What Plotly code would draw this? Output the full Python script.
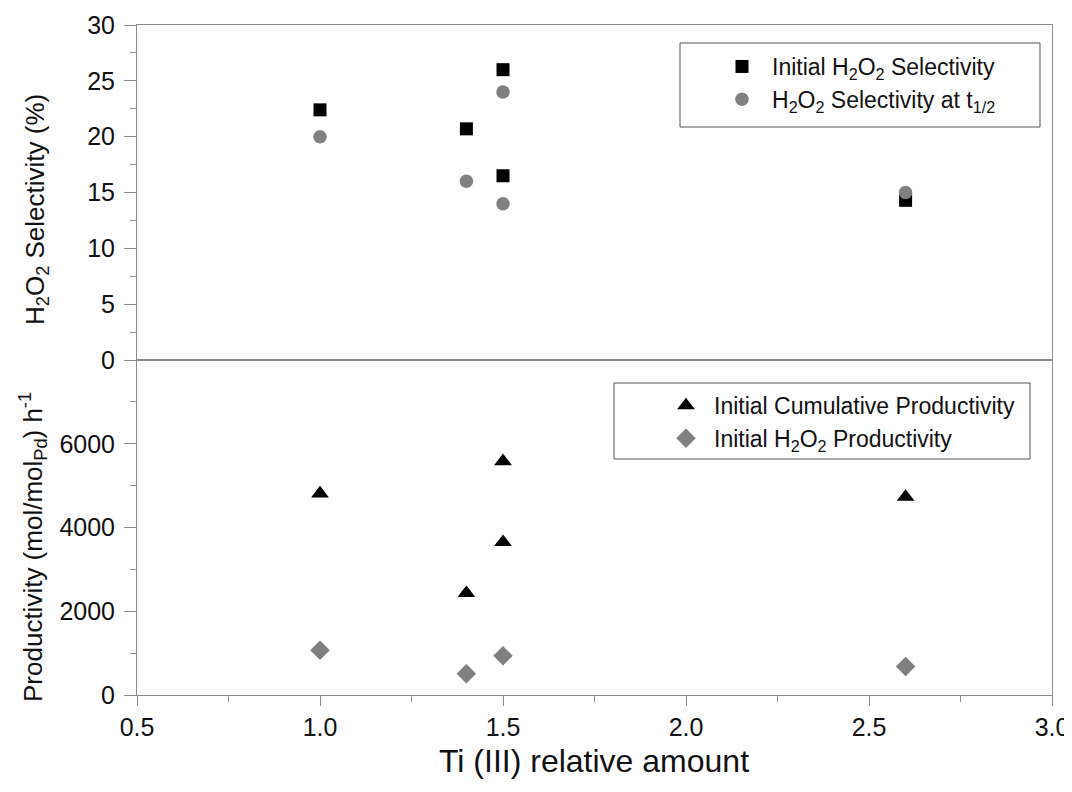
import plotly.graph_objects as go
from plotly.subplots import make_subplots

# ---- data ----
x_sel = [1.0, 1.4, 1.5, 1.5, 2.6]
initial_selectivity = [22.4, 20.7, 26.0, 16.5, 14.3]
selectivity_half = [20.0, 16.0, 24.0, 14.0, 15.0]

x_cum = [1.0, 1.4, 1.5, 1.5, 2.6]
cumulative_productivity = [4810, 2430, 5580, 3650, 4730]

x_h2o2 = [1.0, 1.4, 1.5, 2.6]
h2o2_productivity = [1070, 510, 940, 680]

x_ticks = [0.5, 1.0, 1.5, 2.0, 2.5, 3.0]
x_minor = [0.75, 1.25, 1.75, 2.25, 2.75]
sel_ticks = [0, 5, 10, 15, 20, 25, 30]
sel_minor = [2.5, 7.5, 12.5, 17.5, 22.5, 27.5]
prod_ticks = [0, 2000, 4000, 6000]
prod_minor = [1000, 3000, 5000, 7000]

FONT = "Liberation Sans, Arial, sans-serif"
AXIS = "#8c8c8c"
GREY = "#808080"
TXT = "#111111"

# page body has an 8px margin; figure is offset by it
W, H = 1064, 784
L, R, T, B = 129, 20, 17, 97
PW, PH = W - L - R, H - T - B  # plot area in px


def px_x(page_x):
    return (page_x - 8 - L) / PW


def px_y(page_y):
    return 1 - (page_y - 8 - T) / PH


fig = make_subplots(rows=2, cols=1, shared_xaxes=True, vertical_spacing=0)

fig.add_trace(go.Scatter(x=x_sel, y=initial_selectivity, mode="markers",
                         name="Initial H<sub>2</sub>O<sub>2</sub> Selectivity",
                         marker=dict(symbol="square", size=13, color="black"),
                         legend="legend"), row=1, col=1)
fig.add_trace(go.Scatter(x=x_sel, y=selectivity_half, mode="markers",
                         name="H<sub>2</sub>O<sub>2</sub> Selectivity at t<sub>1/2</sub>",
                         marker=dict(symbol="circle", size=13.5, color=GREY),
                         legend="legend"), row=1, col=1)
fig.add_trace(go.Scatter(x=x_cum, y=cumulative_productivity, mode="markers",
                         name="Initial Cumulative Productivity",
                         marker=dict(symbol="triangle-up", size=15.5, color="black"),
                         legend="legend2"), row=2, col=1)
fig.add_trace(go.Scatter(x=x_h2o2, y=h2o2_productivity, mode="markers",
                         name="Initial H<sub>2</sub>O<sub>2</sub> Productivity",
                         marker=dict(symbol="diamond", size=15, color=GREY),
                         legend="legend2"), row=2, col=1)

common_axis = dict(showline=True, linecolor=AXIS, linewidth=1, mirror=True,
                   showgrid=False, zeroline=False)

fig.update_xaxes(range=[0.5, 3.0], ticks="", showticklabels=False, row=1, col=1, **common_axis)
fig.update_xaxes(range=[0.5, 3.0], tickvals=x_ticks, ticktext=[f"{v:.1f}" for v in x_ticks],
                 ticks="outside", ticklen=10, tickcolor=AXIS,
                 tickfont=dict(family=FONT, size=25, color=TXT),
                 minor=dict(tickvals=x_minor, ticks="outside", ticklen=6, tickcolor=AXIS),
                 row=2, col=1, **common_axis)
fig.update_yaxes(range=[0, 30], tickvals=sel_ticks, ticks="outside", ticklen=12,
                 tickcolor=AXIS, ticklabelstandoff=4,
                 tickfont=dict(family=FONT, size=25, color=TXT),
                 minor=dict(tickvals=sel_minor, ticks="outside", ticklen=6, tickcolor=AXIS),
                 row=1, col=1, **common_axis)
fig.update_yaxes(range=[0, 8000], tickvals=prod_ticks, ticks="outside", ticklen=12,
                 tickcolor=AXIS, ticklabelstandoff=4,
                 tickfont=dict(family=FONT, size=25, color=TXT),
                 minor=dict(tickvals=prod_minor, ticks="outside", ticklen=6, tickcolor=AXIS),
                 row=2, col=1, **common_axis)

legend_common = dict(xanchor="left", yanchor="top", borderwidth=0,
                     bgcolor="rgba(0,0,0,0)",
                     font=dict(family=FONT, size=23, color=TXT), tracegroupgap=0)

fig.update_layout(
    width=W, height=H,
    margin=dict(l=L, r=R, t=T, b=B, autoexpand=False),
    paper_bgcolor="white", plot_bgcolor="white",
    font=dict(family=FONT, size=23, color=TXT),
    legend=dict(x=px_x(742 - 30), y=px_y(45), itemwidth=50, **legend_common),
    legend2=dict(x=px_x(686 - 28), y=px_y(384), itemwidth=46, **legend_common),
    shapes=[
        dict(type="rect", xref="paper", yref="paper",
             x0=px_x(680), x1=px_x(1040), y0=px_y(127), y1=px_y(43),
             line=dict(color="#555555", width=1), fillcolor="rgba(0,0,0,0)", layer="above"),
        dict(type="rect", xref="paper", yref="paper",
             x0=px_x(614), x1=px_x(1030), y0=px_y(459), y1=px_y(383),
             line=dict(color="#555555", width=1), fillcolor="rgba(0,0,0,0)", layer="above"),
    ],
    annotations=[
        dict(text="Ti (III) relative amount", xref="paper", yref="paper",
             x=px_x(594), y=px_y(761), showarrow=False,
             xanchor="center", yanchor="middle",
             font=dict(family=FONT, size=32, color=TXT)),
        dict(text="H<sub>2</sub>O<sub>2</sub> Selectivity (%)", xref="paper", yref="paper",
             x=px_x(36), y=px_y(210), textangle=-90, showarrow=False,
             xanchor="center", yanchor="middle",
             font=dict(family=FONT, size=26, color=TXT)),
        dict(text="Productivity (mol/mol<sub>Pd</sub>) h<sup>-1</sup>", xref="paper", yref="paper",
             x=px_x(33), y=px_y(547), textangle=-90, showarrow=False,
             xanchor="center", yanchor="middle",
             font=dict(family=FONT, size=26, color=TXT)),
    ],
)

fig.write_html("out.html")
